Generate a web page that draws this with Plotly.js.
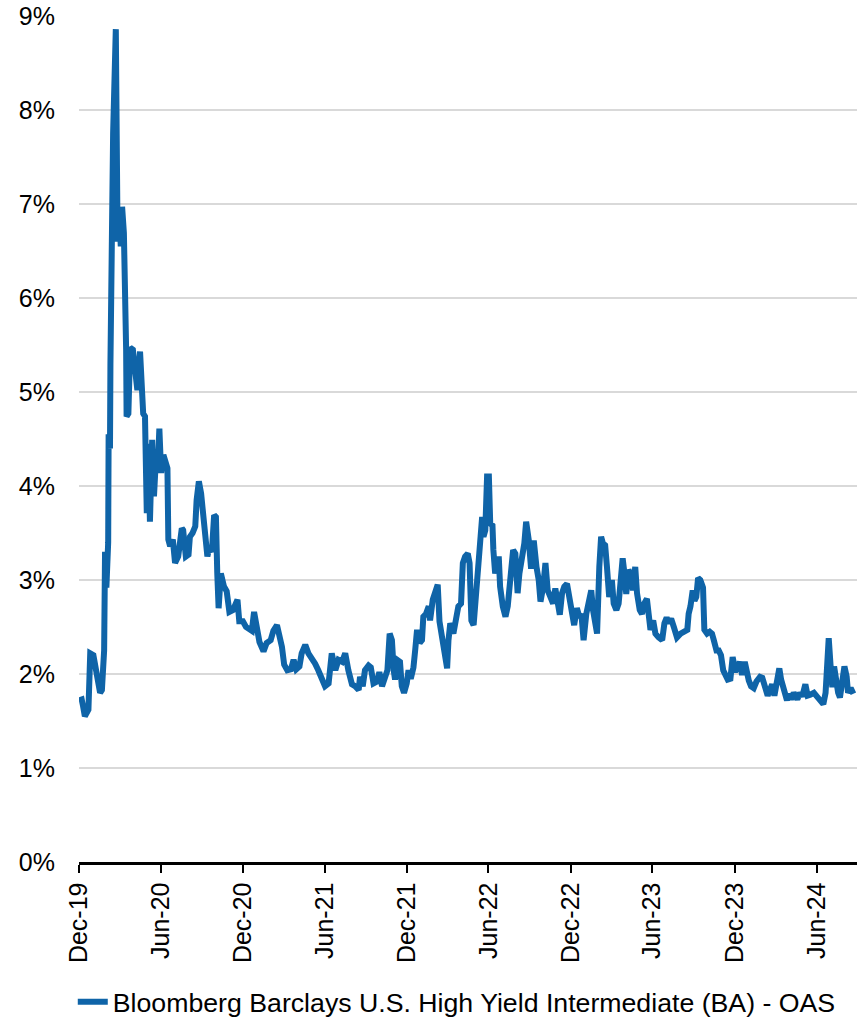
<!DOCTYPE html>
<html>
<head>
<meta charset="utf-8">
<script src="https://cdn.plot.ly/plotly-3.0.1.min.js"></script>
<style>
  html, body { margin: 0; padding: 0; background: #ffffff; }
  #chart { width: 864px; height: 1021px; }
</style>
</head>
<body>
<div id="chart"></div>
<script>
// ---- Data (OAS, percent) ----
const seriesName = "Bloomberg Barclays U.S. High Yield Intermediate (BA) - OAS";

const dates = [
  "2019-12-31","2020-01-06","2020-01-09","2020-01-13","2020-01-21","2020-01-25","2020-02-01","2020-02-08","2020-02-16","2020-02-20",
  "2020-02-25","2020-02-27","2020-03-01","2020-03-05","2020-03-06","2020-03-09","2020-03-10","2020-03-13","2020-03-16","2020-03-22",
  "2020-03-25","2020-03-26","2020-03-30","2020-04-02","2020-04-05","2020-04-09","2020-04-14","2020-04-15","2020-04-19","2020-04-23",
  "2020-04-29","2020-05-04","2020-05-09","2020-05-15","2020-05-19","2020-05-22","2020-05-26","2020-05-27","2020-05-30","2020-06-02",
  "2020-06-06","2020-06-11","2020-06-15","2020-06-20","2020-06-23","2020-06-27","2020-07-01","2020-07-06","2020-07-11","2020-07-15",
  "2020-07-17","2020-07-21","2020-07-27","2020-08-01","2020-08-08","2020-08-16","2020-08-19","2020-08-25","2020-08-31","2020-09-03",
  "2020-09-09","2020-09-15","2020-09-18","2020-09-23","2020-09-28","2020-10-03","2020-10-07","2020-10-12","2020-10-16","2020-10-22",
  "2020-10-27","2020-10-31","2020-11-03","2020-11-06","2020-11-11","2020-11-18","2020-11-24","2020-11-30","2020-12-08","2020-12-13",
  "2020-12-18","2020-12-22","2020-12-30","2021-01-06","2021-01-14","2021-01-19","2021-01-24","2021-01-30","2021-02-05","2021-02-14",
  "2021-02-21","2021-03-02","2021-03-08","2021-03-16","2021-03-21","2021-03-27","2021-04-01","2021-04-08","2021-04-16","2021-04-22",
  "2021-04-28","2021-05-05","2021-05-10","2021-05-18","2021-05-25","2021-06-02","2021-06-09","2021-06-16","2021-06-24","2021-07-01",
  "2021-07-09","2021-07-16","2021-07-24","2021-07-31","2021-08-08","2021-08-15","2021-08-22","2021-08-30","2021-09-06","2021-09-14",
  "2021-09-17","2021-09-23","2021-09-28","2021-10-06","2021-10-11","2021-10-17","2021-10-25","2021-10-30","2021-11-05","2021-11-12",
  "2021-11-17","2021-11-22","2021-11-27","2021-12-01","2021-12-04","2021-12-09","2021-12-15","2021-12-19","2021-12-24","2021-12-30",
  "2022-01-03","2022-01-08","2022-01-14","2022-01-18","2022-01-22","2022-01-28","2022-02-02","2022-02-05","2022-02-11","2022-02-17",
  "2022-02-20","2022-02-26","2022-03-04","2022-03-09","2022-03-13","2022-03-18","2022-03-24","2022-03-30","2022-04-02","2022-04-06",
  "2022-04-13","2022-04-19","2022-04-24","2022-04-30","2022-05-04","2022-05-09","2022-05-15","2022-05-19","2022-05-23","2022-05-28",
  "2022-06-03","2022-06-08","2022-06-12","2022-06-16","2022-06-19","2022-06-23","2022-06-27","2022-07-01","2022-07-04","2022-07-09",
  "2022-07-11","2022-07-15","2022-07-23","2022-07-26","2022-08-01","2022-08-07","2022-08-12","2022-08-18","2022-08-24","2022-08-29",
  "2022-09-03","2022-09-07","2022-09-13","2022-09-18","2022-09-22","2022-09-28","2022-10-03","2022-10-09","2022-10-15","2022-10-20",
  "2022-10-24","2022-10-30","2022-11-04","2022-11-09","2022-11-15","2022-11-21","2022-11-26","2022-12-01","2022-12-06","2022-12-11",
  "2022-12-16","2022-12-22","2022-12-28","2023-01-02","2023-01-07","2023-01-13","2023-01-19","2023-01-23","2023-01-28","2023-02-03",
  "2023-02-08","2023-02-14","2023-02-18","2023-02-23","2023-02-27","2023-03-04","2023-03-08","2023-03-12","2023-03-17","2023-03-21",
  "2023-03-26","2023-04-01","2023-04-05","2023-04-11","2023-04-16","2023-04-20","2023-04-25","2023-04-29","2023-05-03","2023-05-08",
  "2023-05-14","2023-05-18","2023-05-23","2023-05-27","2023-06-02","2023-06-07","2023-06-12","2023-06-18","2023-06-21","2023-06-26",
  "2023-07-02","2023-07-07","2023-07-14","2023-07-22","2023-07-27","2023-08-01","2023-08-06","2023-08-11","2023-08-17","2023-08-24",
  "2023-09-01","2023-09-10","2023-09-16","2023-09-19","2023-09-23","2023-09-28","2023-10-02","2023-10-06","2023-10-10","2023-10-15",
  "2023-10-21","2023-10-24","2023-10-30","2023-11-05","2023-11-10","2023-11-14","2023-11-20","2023-11-25","2023-11-30","2023-12-05",
  "2023-12-10","2023-12-15","2023-12-21","2023-12-26","2024-01-01","2024-01-06","2024-01-11","2024-01-16","2024-01-22","2024-01-26",
  "2024-01-31","2024-02-05","2024-02-11","2024-02-17","2024-02-25","2024-03-01","2024-03-07","2024-03-13","2024-03-18","2024-03-23",
  "2024-03-28","2024-04-03","2024-04-08","2024-04-12","2024-04-17","2024-04-25","2024-04-29","2024-05-04","2024-05-10","2024-05-18",
  "2024-05-24","2024-05-29","2024-06-05","2024-06-10","2024-06-16","2024-06-24","2024-07-01","2024-07-07","2024-07-15","2024-07-20",
  "2024-07-24","2024-07-27","2024-07-31","2024-08-04","2024-08-08","2024-08-13","2024-08-17","2024-08-21","2024-08-26","2024-08-31",
  "2024-09-05","2024-09-08","2024-09-14","2024-09-20"
];

const oas = [
  1.72,1.73,1.66,1.55,1.62,2.22,2.20,1.97,1.80,1.83,
  2.25,3.30,2.92,3.40,4.55,4.40,5.30,6.69,7.75,8.86,
  7.30,6.60,6.97,6.55,6.97,6.69,5.45,4.74,4.77,5.47,
  5.45,5.16,5.02,5.43,5.10,4.77,4.74,4.42,3.71,4.45,
  3.62,4.49,3.89,4.35,4.14,4.61,4.14,4.33,4.26,4.19,
  3.43,3.36,3.43,3.18,3.25,3.55,3.53,3.25,3.27,3.46,
  3.50,3.57,3.85,4.05,3.92,3.67,3.39,3.25,3.34,3.30,
  3.69,3.67,3.07,2.70,3.07,2.93,2.88,2.66,2.68,2.75,
  2.79,2.56,2.56,2.50,2.48,2.46,2.66,2.46,2.34,2.24,
  2.33,2.36,2.46,2.52,2.43,2.29,2.10,2.04,2.05,2.15,
  2.05,2.08,2.22,2.31,2.22,2.17,2.11,2.04,1.94,1.87,
  1.90,2.22,2.04,2.15,2.13,2.22,2.04,1.89,1.87,1.83,
  1.97,1.87,2.04,2.09,2.07,1.90,1.92,2.02,1.87,1.97,
  2.04,2.43,2.36,2.04,1.94,2.15,2.13,1.87,1.80,1.90,
  2.04,1.95,2.07,2.26,2.47,2.33,2.36,2.61,2.64,2.72,
  2.57,2.79,2.86,2.95,2.56,2.41,2.29,2.06,2.36,2.54,
  2.43,2.64,2.72,2.75,3.18,3.25,3.28,3.18,2.57,2.52,
  2.93,3.35,3.57,3.67,3.46,3.53,4.10,4.10,3.60,3.58,
  3.32,3.07,3.25,2.93,2.72,2.61,2.72,3.04,3.32,3.28,
  2.86,3.07,3.25,3.39,3.62,3.42,3.12,3.42,3.14,3.00,
  2.77,2.93,3.18,2.89,2.82,2.75,2.91,2.79,2.63,2.86,
  2.93,2.96,2.79,2.72,2.52,2.70,2.60,2.64,2.36,2.64,
  2.75,2.89,2.68,2.54,2.43,3.14,3.46,3.39,3.37,3.14,
  2.82,3.00,2.75,2.68,2.75,2.96,3.23,3.07,2.85,3.11,
  3.04,2.89,3.14,2.86,2.68,2.64,2.75,2.80,2.61,2.47,
  2.57,2.43,2.39,2.36,2.54,2.60,2.54,2.59,2.50,2.39,
  2.43,2.45,2.47,2.64,2.72,2.89,2.78,2.82,3.02,3.00,
  2.92,2.47,2.43,2.45,2.43,2.36,2.25,2.25,2.20,2.04,
  1.99,1.94,1.95,2.18,2.03,2.06,2.13,1.99,2.13,2.00,
  1.93,1.87,1.85,1.92,1.97,1.96,1.87,1.77,1.83,1.89,
  1.77,1.90,2.06,1.94,1.87,1.72,1.79,1.73,1.80,1.73,
  1.80,1.76,1.89,1.77,1.78,1.80,1.76,1.73,1.68,1.80,
  2.12,2.38,2.10,1.86,2.08,1.85,1.80,1.75,1.90,2.08,
  1.97,1.80,1.85,1.79
];

// ---- Axis ticks ----
const tickDates = ["2019-12-31","2020-06-30","2020-12-31","2021-06-30","2021-12-31",
                   "2022-06-30","2022-12-31","2023-06-30","2023-12-31","2024-06-30"];
const tickLabels = ["Dec-19","Jun-20","Dec-20","Jun-21","Dec-21",
                    "Jun-22","Dec-22","Jun-23","Dec-23","Jun-24"];
const yTicks = [0,1,2,3,4,5,6,7,8,9];
const yTickLabels = ["0%","1%","2%","3%","4%","5%","6%","7%","8%","9%"];

const FONT = "Arial, 'Liberation Sans', sans-serif";

const trace = {
  x: dates,
  y: oas,
  type: "scatter",
  mode: "lines",
  name: seriesName,
  line: { color: "#0F64A8", width: 6, shape: "linear" },
  hovertemplate: "%{x|%b %d, %Y}: %{y:.2f}%<extra></extra>"
};

const layout = {
  width: 864,
  height: 1021,
  paper_bgcolor: "#ffffff",
  plot_bgcolor: "#ffffff",
  margin: { l: 79, r: 7, t: 16, b: 159, autoexpand: false },
  font: { family: FONT, size: 25, color: "#000000" },
  showlegend: true,
  legend: {
    orientation: "h",
    x: -0.008, xanchor: "left",
    yref: "container",
    y: 0.0186, yanchor: "middle",
    font: { family: FONT, size: 26.7, color: "#000000" },
    bgcolor: "rgba(0,0,0,0)",
    borderwidth: 0
  },
  xaxis: {
    type: "date",
    range: ["2019-12-31", "2024-09-28"],
    tickmode: "array",
    tickvals: tickDates,
    ticktext: tickLabels,
    tickangle: -90,
    ticks: "outside",
    ticklen: 8,
    tickwidth: 2,
    tickcolor: "#000000",
    showline: true,
    linecolor: "#000000",
    linewidth: 2.5,
    showgrid: false,
    zeroline: false,
    automargin: false,
    tickfont: { family: FONT, size: 25, color: "#000000" },
    fixedrange: true
  },
  yaxis: {
    range: [0, 9],
    tickmode: "array",
    tickvals: yTicks,
    ticktext: yTickLabels,
    showgrid: true,
    gridcolor: "#d9d9d9",
    gridwidth: 2,
    zeroline: false,
    showline: false,
    ticks: "",
    ticklabelstandoff: 23,
    automargin: false,
    tickfont: { family: FONT, size: 25, color: "#000000" },
    fixedrange: true
  }
};

Plotly.newPlot("chart", [trace], layout, { displayModeBar: false, staticPlot: true });
</script>
</body>
</html>
